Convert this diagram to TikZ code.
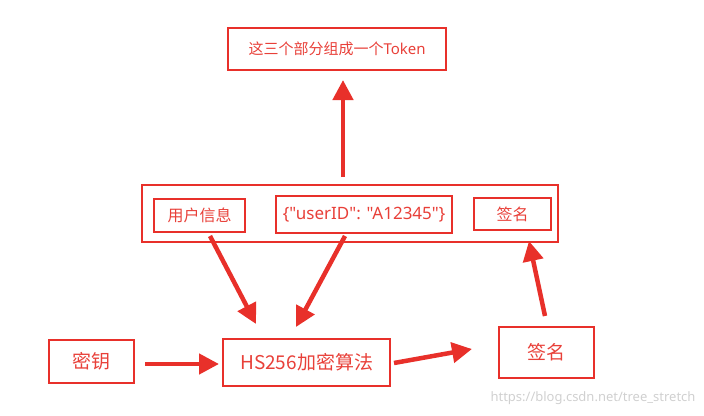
\documentclass[tikz,border=0pt]{standalone}
\usepackage{fontspec}
\setmainfont{Noto Sans CJK SC}
\newfontfamily\latinf[Ligatures=NoCommon]{Noto Sans}
\usetikzlibrary{arrows.meta}
\definecolor{boxred}{HTML}{E8302A}
\definecolor{txtred}{HTML}{E84039}
\definecolor{wm}{HTML}{D0D0D0}
\begin{document}
\begin{tikzpicture}[x=1pt,y=-1pt,
  rbox/.style={draw=boxred,line width=2.3pt,text=txtred,inner sep=0pt,anchor=north west},
  arr/.style={draw=boxred,line width=4.5pt,-{Triangle[length=20pt,width=20pt]}}]
\useasboundingbox (0,0) rectangle (704,415);
\node[rbox,minimum width=218pt,minimum height=42pt,font=\fontsize{15}{17}\selectfont] (tok) at (227,27) {这三个部分组成一个{\latinf Token}};
\node[rbox,minimum width=416pt,minimum height=57pt] (outer) at (141,184) {};
\node[rbox,minimum width=91pt,minimum height=33pt,font=\fontsize{16}{18}\selectfont] (user) at (153,198) {用户信息};
\node[rbox,minimum width=176pt,minimum height=37pt,font=\latinf\fontsize{17}{19}\selectfont] (uid) at (275,195) {\{\char"22 userID\char"22 : \char"22 A12345\char"22 \}};
\node[rbox,minimum width=77pt,minimum height=32pt,font=\fontsize{16}{18}\selectfont] (sig1) at (473,197) {签名};
\node[rbox,minimum width=85pt,minimum height=43pt,font=\fontsize{19}{21}\selectfont] (key) at (48,339) {密钥};
\node[rbox,minimum width=167pt,minimum height=47pt,font=\fontsize{19}{21}\selectfont] (hs) at (222,338) {HS256加密算法};
\node[rbox,minimum width=95pt,minimum height=51pt,font=\fontsize{19}{21}\selectfont] (sig2) at (498,326) {签名};
\node[text=wm,font=\latinf\fontsize{13}{15}\selectfont,anchor=east] (wmk) at (699,398) {https://blog.csdn.net/tree\_stretch};
\coordinate (a1s) at (343,177); \coordinate (a1e) at (343,80);
\coordinate (a2s) at (210,236); \coordinate (a2e) at (256,324);
\coordinate (a3s) at (345,236); \coordinate (a3e) at (296,327);
\coordinate (a4s) at (145,364); \coordinate (a4e) at (219,364);
\coordinate (a5s) at (394,363); \coordinate (a5e) at (472,349);
\coordinate (a6s) at (545,316); \coordinate (a6e) at (529,241);
\draw[arr] (a1s) -- (a1e);
\draw[arr] (a2s) -- (a2e);
\draw[arr] (a3s) -- (a3e);
\draw[arr] (a4s) -- (a4e);
\draw[arr] (a5s) -- (a5e);
\draw[arr] (a6s) -- (a6e);
\end{tikzpicture}
\end{document}
